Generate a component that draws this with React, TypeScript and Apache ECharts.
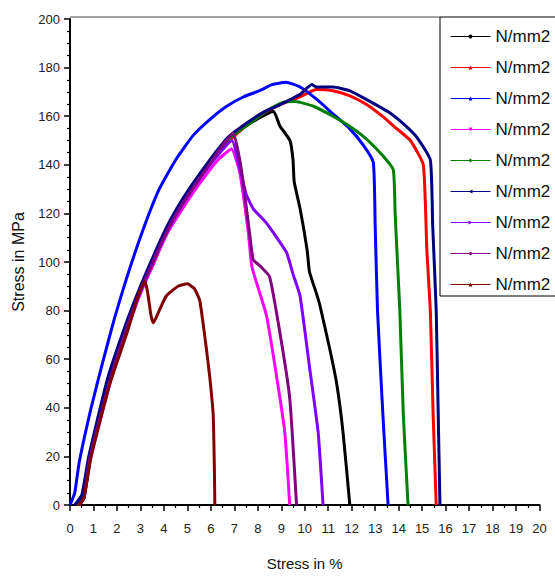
import React, { useEffect, useRef } from "react";
import * as echarts from "echarts";

const legendNames = ["N/mm2", "N/mm2", "N/mm2", "N/mm2", "N/mm2", "N/mm2", "N/mm2", "N/mm2", "N/mm2"];
const colors = ["#000000", "#ff0000", "#0000ff", "#ff00ff", "#008000", "#000080", "#8000ff", "#800080", "#800000"];
const symbols = ["circle", "triangle", "triangle", "triangle", "diamond", "triangle", "triangle", "diamond", "triangle"];
const symbolRotates = [0, 0, 0, 180, 0, 90, -90, 0, 0];

const xTicks = { min: 0, max: 20, interval: 1 };
const yTicks = { min: 0, max: 200, interval: 20 };

// Black
const blackX = [0.35, 0.55, 0.85, 1.7, 2.4, 3.0, 4.1, 4.8, 5.5, 6.2, 6.8, 7.5, 8.2, 8.67, 8.94, 9.37, 9.5, 9.55, 9.8, 10.1, 10.2, 10.5, 10.65, 11.07, 11.36, 11.63, 11.92];
const blackY = [0, 3, 20, 52, 73, 89, 113, 125, 135, 145, 151, 156, 160, 162, 156, 150, 142, 133, 122, 105, 96, 87, 82, 64, 50, 30, 0];
// Red
const redX = [0.3, 0.55, 0.85, 1.2, 1.7, 2.4, 3.0, 3.5, 4.1, 4.8, 5.5, 6.2, 6.8, 7.5, 8.2, 9.0, 9.8, 10.5, 11.2, 11.9, 12.6, 13.3, 13.9, 14.5, 15.05, 15.2, 15.35, 15.47, 15.6];
const redY = [0, 2, 19, 33, 51, 71, 88, 98, 112, 124, 134, 144, 150, 156, 161, 165, 168, 171, 170.5, 168.5, 165, 160, 155, 150, 140, 105, 80, 37, 0];
// Blue
const blueX = [0, 0.2, 0.4, 0.9, 1.4, 1.9, 2.4, 3.1, 3.8, 4.5, 5.24, 6.0, 6.66, 7.4, 8.08, 8.6, 9.2, 9.8, 10.5, 11.2, 11.9, 12.5, 12.92, 13.0, 13.1, 13.33, 13.55];
const blueY = [0, 5, 18, 40, 59, 77, 93, 113, 130, 142, 152, 159, 164, 168, 170.5, 173, 174, 172, 167, 161, 155, 148, 141, 115, 80, 37, 0];
// Magenta
const magentaX = [0.4, 0.6, 0.85, 1.7, 2.4, 3.0, 4.1, 4.8, 5.5, 6.3, 6.88, 7.23, 7.6, 7.75, 8.37, 8.8, 9.15, 9.36];
const magentaY = [0, 3, 18, 50, 71, 87, 111, 122, 132, 142, 146.5, 137, 112, 98, 78, 53, 30, 0];
// Green
const greenX = [0.35, 0.55, 0.85, 1.7, 2.4, 3.0, 4.1, 4.8, 5.5, 6.2, 6.8, 7.5, 8.2, 8.6, 9.1, 9.6, 10.4, 11.2, 11.9, 12.63, 13.3, 13.77, 13.85, 13.95, 14.05, 14.2, 14.4];
const greenY = [0, 3, 20, 52, 72, 89, 113, 125, 135, 145, 151, 156, 161, 163.5, 165.8, 166, 164, 160, 156, 150.6, 144, 138, 120, 100, 80, 37, 0];
// Navy
const navyX = [0.2, 0.5, 0.8, 1.6, 2.4, 3.0, 4.1, 4.8, 5.5, 6.7, 7.5, 8.3, 9.0, 9.8, 10.3, 10.5, 11.2, 11.9, 12.6, 13.6, 14.3, 14.8, 15.35, 15.45, 15.6, 15.68, 15.76];
const navyY = [0, 4, 20, 52, 75, 90, 114, 126, 136, 151, 157, 162, 165, 169, 173, 172, 172, 170.5, 167, 161.5, 156, 151, 142, 115, 80, 40, 0];
// Violet
const violetX = [0.4, 0.6, 0.85, 1.7, 2.4, 3.0, 4.1, 4.8, 5.5, 6.3, 6.9, 7.2, 7.5, 7.8, 8.37, 9.22, 9.5, 9.8, 10.2, 10.57, 10.78];
const violetY = [0, 3, 19, 51, 72, 88, 112, 124, 134, 144, 150, 140, 128, 122, 116, 104, 95, 86, 57, 30, 0];
// Purple
const purpleX = [0.4, 0.6, 0.85, 1.7, 2.4, 3.0, 4.1, 4.8, 5.5, 6.5, 6.95, 7.3, 7.66, 7.8, 8.08, 8.5, 8.94, 9.36, 9.65];
const purpleY = [0, 3, 19, 51, 72, 88, 112, 124, 134, 148, 153, 138, 111, 101, 98.5, 94, 71, 44, 0];
// Maroon
const maroonX = [0.4, 0.6, 0.9, 1.7, 2.4, 2.9, 3.18, 3.3, 3.45, 3.55, 3.8, 4.1, 4.6, 5.0, 5.3, 5.53, 5.8, 5.95, 6.1, 6.15, 6.17];
const maroonY = [0, 3, 20, 50, 70, 86, 92, 88, 78, 75, 80, 86, 90, 91, 89, 84, 65, 53, 37, 15, 0];

const seriesX = [blackX, redX, blueX, magentaX, greenX, navyX, violetX, purpleX, maroonX];
const seriesY = [blackY, redY, blueY, magentaY, greenY, navyY, violetY, purpleY, maroonY];

export default function App() {
  const ref = useRef<HTMLDivElement>(null);
  useEffect(() => {
    if (!ref.current) return;
    const chart = echarts.init(ref.current, null, { renderer: "svg" });
    const font = "Liberation Sans, Arial, sans-serif";
    const series = seriesX.map((xs, i) => ({
      name: "s" + i,
      type: "line",
      data: xs.map((x, j) => [x, seriesY[i][j]]),
      symbol: symbols[i],
      symbolRotate: symbolRotates[i],
      symbolSize: 4,
      showSymbol: false,
      smooth: 0.15,
      lineStyle: { color: colors[i], width: 3 },
      itemStyle: { color: colors[i] },
      z: 2 + i,
    }));
    chart.setOption({
      animation: false,
      backgroundColor: "#ffffff",
      textStyle: { fontFamily: font },
      grid: { left: 70, right: 15.5, top: 19, bottom: 69 },
      legend: {
        orient: "vertical",
        left: 440,
        top: 17,
        padding: [11, 12, 3, 10],
        itemWidth: 40,
        itemHeight: 5,
        itemGap: 14,
        backgroundColor: "#ffffff",
        borderColor: "#000000",
        borderWidth: 1,
        lineStyle: { width: 1 },
        data: seriesX.map((_, i) => "s" + i),
        formatter: (name: string) => legendNames[parseInt(name.slice(1), 10)],
        textStyle: { fontSize: 17, color: "#111", fontFamily: font, lineHeight: 14 },
      },
      graphic: [
        {
          type: "line",
          shape: { x1: 70, y1: 17, x2: 440, y2: 17 },
          style: { stroke: "#444", lineWidth: 1 },
          z: 0,
        },
      ],
      xAxis: {
        type: "value",
        min: xTicks.min,
        max: xTicks.max,
        interval: xTicks.interval,
        name: "Stress in %",
        nameLocation: "middle",
        nameGap: 51,
        nameTextStyle: { fontSize: 15, color: "#111", fontFamily: font },
        axisLine: { onZero: false, lineStyle: { color: "#000", width: 2 } },
        axisTick: { length: 6, lineStyle: { color: "#000", width: 1.5 } },
        minorTick: { show: true, splitNumber: 2, length: 3, lineStyle: { color: "#000", width: 1.2 } },
        axisLabel: { fontSize: 13, color: "#222", margin: 17, fontFamily: font },
        splitLine: { show: false },
      },
      yAxis: {
        type: "value",
        min: yTicks.min,
        max: yTicks.max,
        interval: yTicks.interval,
        name: "Stress in MPa",
        nameLocation: "middle",
        nameGap: 44,
        nameTextStyle: { fontSize: 16, color: "#111", fontFamily: font },
        axisLine: { show: true, lineStyle: { color: "#000", width: 2 } },
        axisTick: { show: true, length: 6, lineStyle: { color: "#000", width: 1.5 } },
        minorTick: { show: true, splitNumber: 4, length: 3, lineStyle: { color: "#000", width: 1.2 } },
        axisLabel: { fontSize: 13, color: "#222", margin: 10, fontFamily: font },
        splitLine: { show: false },
      },
      series,
    });
    return () => chart.dispose();
  }, []);
  return <div ref={ref} style={{ position: "absolute", left: 0, top: 0, width: 555, height: 576 }} />;
}
